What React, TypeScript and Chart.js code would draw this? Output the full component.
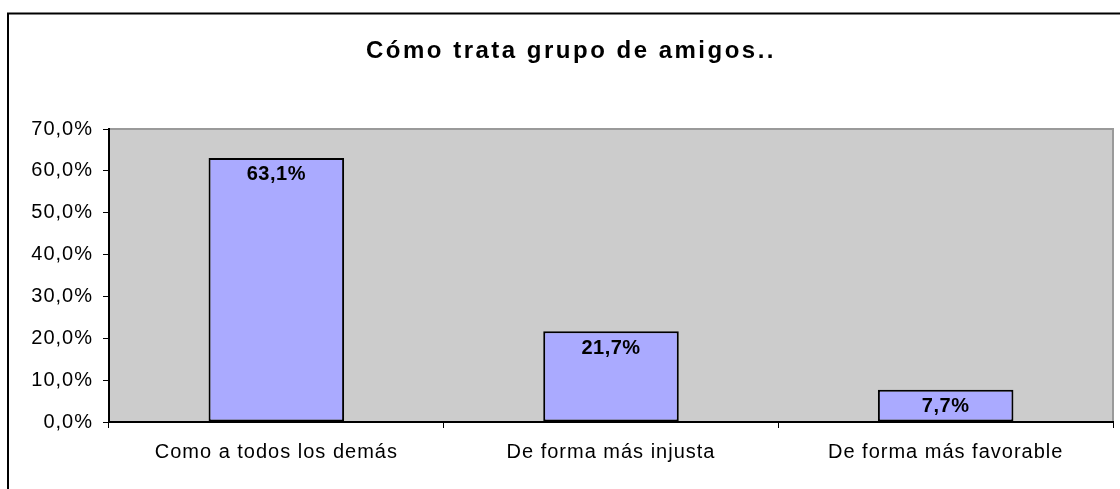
import React, { useEffect, useRef } from "react";
import { Chart, registerables } from "chart.js";

Chart.register(...registerables);

const TITLE = "Cómo trata grupo de amigos..";
const CATEGORIES = ["Como a todos los demás", "De forma más injusta", "De forma más favorable"];
const VALUES = [63.1, 21.7, 7.7];
const Y_MIN = 0;
const Y_MAX = 70;
const Y_STEP = 10;

const FONT = "'Liberation Sans', Arial, Helvetica, sans-serif";

const fmt = (v: number) => v.toFixed(1).replace(".", ",") + "%";

const decorPlugin = {
  id: "decor",
  beforeLayout(chart: any) {
    chart.ctx.letterSpacing = "1px";
  },
  beforeDraw(chart: any) {
    const ctx = chart.ctx;
    const { left, top, right, bottom } = chart.chartArea;
    ctx.save();
    ctx.fillStyle = "#ffffff";
    ctx.fillRect(0, 0, chart.width, chart.height);
    ctx.strokeStyle = "#000000";
    ctx.lineWidth = 2;
    ctx.strokeRect(8, 13.5, 1300, 700);
    ctx.fillStyle = "#CCCCCC";
    ctx.fillRect(left, top, right - left, bottom - top);
    ctx.strokeStyle = "#9a9a9a";
    ctx.lineWidth = 2;
    ctx.beginPath();
    ctx.moveTo(left, top);
    ctx.lineTo(right, top);
    ctx.lineTo(right, bottom);
    ctx.stroke();
    ctx.restore();
    ctx.letterSpacing = "1px";
  },
  afterDatasetsDraw(chart: any) {
    const ctx = chart.ctx;
    const meta = chart.getDatasetMeta(0);
    ctx.save();
    ctx.letterSpacing = "0.5px";
    ctx.font = `bold 20px ${FONT}`;
    ctx.fillStyle = "#000000";
    ctx.textAlign = "center";
    ctx.textBaseline = "middle";
    meta.data.forEach((bar: any, i: number) => {
      ctx.fillText(fmt(VALUES[i]), bar.x, bar.y + 17);
    });
    ctx.restore();
  },
  afterDraw(chart: any) {
    const ctx = chart.ctx;
    ctx.save();
    ctx.letterSpacing = "2.5px";
    ctx.font = `bold 24px ${FONT}`;
    ctx.fillStyle = "#000000";
    ctx.textAlign = "center";
    ctx.textBaseline = "middle";
    ctx.fillText(TITLE, 571, 51);
    ctx.restore();
  },
};

export default function App() {
  const ref = useRef<HTMLCanvasElement | null>(null);

  useEffect(() => {
    document.body.style.margin = "0";
    if (!ref.current) return;
    const chart = new Chart(ref.current, {
      type: "bar",
      data: {
        labels: CATEGORIES,
        datasets: [
          {
            data: VALUES,
            backgroundColor: "#AAAAFF",
            borderColor: "#000000",
            borderWidth: 2,
            borderSkipped: false,
            barPercentage: 0.405,
            categoryPercentage: 1,
          },
        ],
      },
      options: {
        responsive: false,
        animation: false,
        devicePixelRatio: 1,
        layout: { padding: { left: 0, top: 129, right: 7, bottom: 0 } },
        plugins: {
          legend: { display: false },
          title: { display: false },
          tooltip: { enabled: false },
        },
        scales: {
          x: {
            offset: true,
            grid: {
              offset: true,
              drawOnChartArea: false,
              drawTicks: true,
              tickLength: 6,
              color: "#000000",
              lineWidth: 1,
            },
            border: { display: true, color: "#000000", width: 2 },
            ticks: {
              color: "#000000",
              font: { family: FONT, size: 20 },
              padding: 12,
              maxRotation: 0,
              autoSkip: false,
            },
            afterFit(scale: any) {
              scale.height = 67;
            },
          },
          y: {
            min: Y_MIN,
            max: Y_MAX,
            grid: {
              drawOnChartArea: false,
              drawTicks: true,
              tickLength: 6,
              color: "#000000",
              lineWidth: 1,
            },
            border: { display: true, color: "#000000", width: 2 },
            ticks: {
              stepSize: Y_STEP,
              color: "#000000",
              font: { family: FONT, size: 20 },
              padding: 10,
              callback: (v: any) => fmt(Number(v)),
            },
            afterFit(scale: any) {
              scale.width = 109;
            },
          },
        },
      },
      plugins: [decorPlugin],
    });
    return () => chart.destroy();
  }, []);

  return (
    <div style={{ width: 1120, height: 489 }}>
      <canvas ref={ref} width={1120} height={489} style={{ display: "block" }} />
    </div>
  );
}
